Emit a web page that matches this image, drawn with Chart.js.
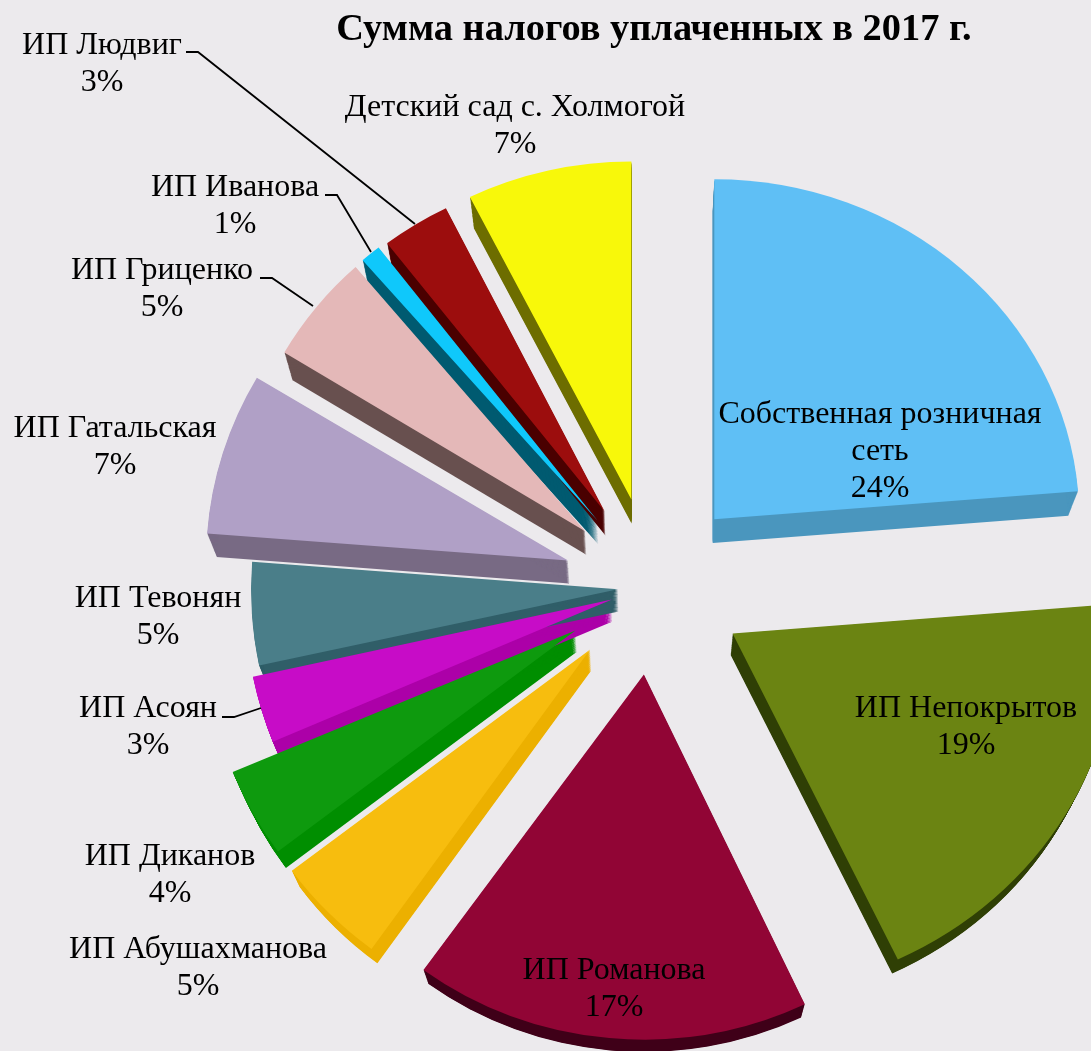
<!DOCTYPE html>
<html lang="ru"><head><meta charset="utf-8">
<style>html,body{margin:0;padding:0;background:#ECEAED;overflow:hidden}canvas{display:block}</style>
<script src="https://cdn.jsdelivr.net/npm/chart.js@4"></script>
</head><body>
<canvas id="c" width="1091" height="1051"></canvas>
<script>
const chartTitle = 'Сумма налогов уплаченных в 2017 г.';
const categories = ['Собственная розничная сеть','ИП Непокрытов','ИП Романова','ИП Абушахманова','ИП Диканов','ИП Асоян','ИП Тевонян','ИП Гатальская','ИП Гриценко','ИП Иванова','ИП Людвиг','Детский сад с. Холмогой'];
const shares = [23.69,19.25,17.06,4.81,3.94,2.92,4.53,7.33,5.08,0.92,3.11,7.36];
const topColors = ['#5FBFF5','#6B8412','#910535','#F7BD0E','#0E9A0E','#C70CC7','#4A7E89','#B0A0C6','#E4B8B8','#0FC8FB','#9C0D0D','#F8F80A'];
const sideColors = ['#4A96BE','#2F3F05','#3F0018','#ECB000','#008E00','#AC00A8','#305E68','#786A84','#68504F','#005A70','#4A0000','#6D6D00'];
const explode = [92,93,88,88,88,42,34,88,87,86,89,90];
const radiusX = [365,385,375,372,371,367,367,362,350,358,356,362];
const radiusY = [340,361,365,370,370,372,367,358,350,345,339,338];
const labelLines = [['Собственная розничная','сеть'],['ИП Непокрытов'],['ИП Романова'],['ИП Абушахманова'],['ИП Диканов'],['ИП Асоян'],['ИП Тевонян'],['ИП Гатальская'],['ИП Гриценко'],['ИП Иванова'],['ИП Людвиг'],['Детский сад с. Холмогой']];
const labelAnchors = [[880,415],[966,709],[614,971],[198,950],[170,857],[148,709],[158,599],[115,429],[162,271],[235,188],[102,46],[515,108]];
const leaders = [[[186,52],[198,52],[415,224]],[[325,195],[337,195],[371,252]],[[260,278],[272,278],[313,306]],[[222,717],[234,717],[261,708]]];
const DEPTH = 0.022, VANISH = [640,1600];

function sliceTransform(ctx,el,i){
  // moves the slice out along its mid-angle, then applies its perspective scale about the apex
  const mid=(el.startAngle+el.endAngle)/2;
  const ax=el.x+Math.cos(mid)*explode[i], ay=el.y+Math.sin(mid)*explode[i];
  ctx.translate(ax,ay);
  ctx.scale(radiusX[i]/el.outerRadius,radiusY[i]/el.outerRadius);
  ctx.translate(-el.x,-el.y);
}
const pie3d = {
  id:'pie3d',
  beforeDatasetsDraw(chart){
    const ctx=chart.ctx, els=chart.getDatasetMeta(0).data;
    els.forEach((el,i)=>{
      if(!el.__wrapped){
        const base=Object.getPrototypeOf(el).draw;
        el.draw=function(c){c.save();sliceTransform(c,el,i);base.call(el,c);c.restore();};
        el.__wrapped=true;
      }
      ctx.fillStyle=sideColors[i];
      for(let k=1;k<=24;k++){
        const s=1-DEPTH*k/24;
        ctx.save();
        ctx.translate(VANISH[0],VANISH[1]);ctx.scale(s,s);ctx.translate(-VANISH[0],-VANISH[1]);
        sliceTransform(ctx,el,i);
        ctx.beginPath();ctx.moveTo(el.x,el.y);
        ctx.arc(el.x,el.y,el.outerRadius,el.startAngle,el.endAngle);
        ctx.closePath();ctx.fill();
        ctx.restore();
      }
    });
  },
  afterDatasetsDraw(chart){
    const ctx=chart.ctx;
    ctx.save();
    ctx.strokeStyle='#000';ctx.lineWidth=1.8;
    leaders.forEach(l=>{ctx.beginPath();l.forEach((p,j)=>j?ctx.lineTo(p[0],p[1]):ctx.moveTo(p[0],p[1]));ctx.stroke();});
    ctx.fillStyle='#000';ctx.textAlign='center';ctx.textBaseline='middle';
    ctx.font='bold 38.4px "Liberation Serif"';
    ctx.fillText(chartTitle,654,30);
    ctx.font='32px "Liberation Serif"';
    labelLines.forEach((lines,i)=>{
      const [x,y]=labelAnchors[i];
      lines.concat([Math.round(shares[i])+'%']).forEach((t,j)=>ctx.fillText(t,x,y+37*j));
    });
    ctx.restore();
  }
};
new Chart(document.getElementById('c'),{
  type:'pie',
  data:{labels:categories,datasets:[{data:shares,backgroundColor:topColors,borderWidth:0}]},
  options:{responsive:false,animation:false,radius:365,
    layout:{padding:{left:213,top:123,right:0,bottom:0}},
    plugins:{legend:{display:false},tooltip:{enabled:false}}},
  plugins:[pie3d]
});
</script>
</body></html>
